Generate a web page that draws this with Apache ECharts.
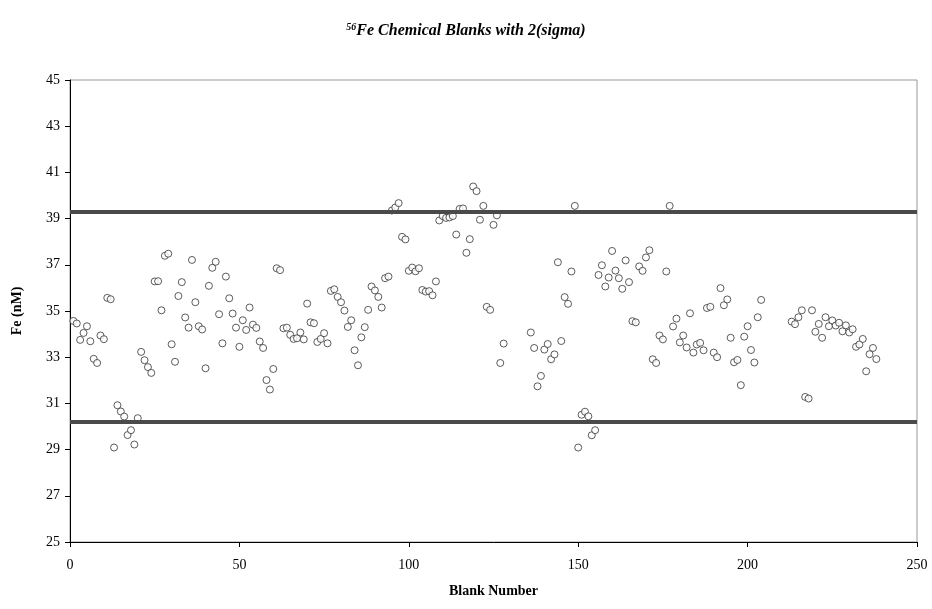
<!DOCTYPE html>
<html>
<head>
<meta charset="utf-8">
<script src="https://cdn.jsdelivr.net/npm/echarts@6/dist/echarts.min.js"></script>
<style>
html,body{margin:0;padding:0;background:#fff;}
#chart{width:932px;height:609px;}
</style>
</head>
<body>
<div id="chart"></div>
<script>
const blankNumbers = [
  1,2,3,4,5,6,7,8,9,10,11,12,13,14,15,16,17,18,19,20,
  21,22,23,24,25,26,27,28,29,30,31,32,33,34,35,36,37,38,39,40,
  41,42,43,44,45,46,47,48,49,50,51,52,53,54,55,56,57,58,59,60,
  61,62,63,64,65,66,67,68,69,70,71,72,73,74,75,76,77,78,79,80,
  81,82,83,84,85,86,87,88,89,90,91,92,93,94,95,96,97,98,99,100,
  101,102,103,104,105,106,107,108,109,110,111,112,113,114,115,116,117,118,119,120,
  121,122,123,124,125,126,127,128,
  136,137,138,139,140,141,142,143,144,145,146,147,148,149,150,
  151,152,153,154,155,156,157,158,159,160,161,162,163,164,165,166,167,168,169,170,
  171,172,173,174,175,176,177,178,179,180,181,182,183,184,185,186,187,188,189,190,
  191,192,193,194,195,196,197,198,199,200,201,202,203,204,
  213,214,215,216,217,218,219,220,221,222,223,224,225,226,227,228,229,230,
  231,232,233,234,235,236,237,238
];
const feValues = [
  34.57,34.46,33.75,34.05,34.34,33.69,32.93,32.75,33.94,33.78,35.57,35.51,29.09,30.92,30.65,30.43,29.63,29.84,29.22,30.36,
  33.23,32.87,32.57,32.32,36.28,36.29,35.03,37.39,37.48,33.56,32.80,35.65,36.25,34.72,34.28,37.21,35.38,34.34,34.20,32.52,
  36.09,36.87,37.13,34.86,33.60,36.49,35.55,34.89,34.28,33.45,34.60,34.18,35.15,34.41,34.27,33.68,33.40,32.01,31.60,32.49,
  36.85,36.77,34.25,34.28,33.97,33.79,33.82,34.07,33.77,35.32,34.51,34.47,33.66,33.79,34.04,33.60,35.87,35.94,35.61,35.38,
  35.02,34.31,34.60,33.30,32.65,33.86,34.30,35.05,36.06,35.89,35.61,35.15,36.42,36.49,39.35,39.48,39.67,38.21,38.10,36.74,
  36.88,36.72,36.85,35.91,35.84,35.86,35.68,36.28,38.92,39.11,39.03,39.05,39.11,38.31,39.42,39.44,37.52,38.11,40.39,40.19,
  38.95,39.55,35.18,35.05,38.73,39.14,32.75,33.59,
  34.07,33.40,31.74,32.19,33.33,33.57,32.91,33.12,37.11,33.70,35.60,35.31,36.71,39.55,29.09,
  30.51,30.64,30.44,29.62,29.84,36.56,36.98,36.06,36.45,37.60,36.75,36.42,35.96,37.19,36.25,34.56,34.51,36.93,36.74,37.32,
  37.63,32.91,32.75,33.94,33.77,36.71,39.55,34.33,34.67,33.64,33.94,33.42,34.90,33.20,33.55,33.62,33.30,35.13,35.18,33.20,
  33.00,35.99,35.25,35.50,33.84,32.78,32.88,31.79,33.89,34.34,33.31,32.77,34.73,35.48,
  34.54,34.43,34.73,35.03,31.28,31.21,35.03,34.10,34.44,33.84,34.73,34.34,34.59,34.37,34.49,34.12,34.38,34.07,
  34.21,33.45,33.55,33.79,32.39,33.13,33.40,32.92
];
const upperLimit = 39.3;
const lowerLimit = 30.2;
const xTicks = [0, 50, 100, 150, 200, 250];
const yTicks = [25, 27, 29, 31, 33, 35, 37, 39, 41, 43, 45];

const points = blankNumbers.map((b, i) => [b, feValues[i]]);
const serif = '"Liberation Serif","Times New Roman",serif';

const chart = echarts.init(document.getElementById('chart'), null, {renderer: 'canvas'});
chart.setOption({
  backgroundColor: '#ffffff',
  animation: false,
  title: {
    text: '{sup|56}{t|Fe Chemical Blanks with 2(sigma)}',
    left: 'center',
    top: 17,
    textStyle: {
      rich: {
        sup: {fontFamily: serif, fontSize: 10, fontStyle: 'italic', fontWeight: 'bold', color: '#000', verticalAlign: 'top', padding: [0, 0, 8, 0]},
        t: {fontFamily: serif, fontSize: 16, fontStyle: 'italic', fontWeight: 'bold', color: '#000'}
      }
    }
  },
  grid: {
    left: 70, right: 15, top: 80, bottom: 67,
    show: true, borderColor: '#999', borderWidth: 1, backgroundColor: '#fff'
  },
  xAxis: {
    type: 'value',
    min: xTicks[0], max: xTicks[xTicks.length - 1], interval: 50,
    name: 'Blank Number',
    nameLocation: 'middle',
    nameGap: 42,
    nameTextStyle: {fontFamily: serif, fontSize: 14, fontWeight: 'bold', color: '#000'},
    axisLine: {show: true, lineStyle: {color: '#000', width: 1}},
    axisTick: {show: true, inside: false, length: 5, lineStyle: {color: '#000'}},
    axisLabel: {fontFamily: serif, fontSize: 14, color: '#000', margin: 16},
    splitLine: {show: false}
  },
  yAxis: {
    type: 'value',
    min: yTicks[0], max: yTicks[yTicks.length - 1], interval: 2,
    name: 'Fe (nM)',
    nameLocation: 'middle',
    nameGap: 46,
    nameRotate: 90,
    nameTextStyle: {fontFamily: serif, fontSize: 14, fontWeight: 'bold', color: '#000'},
    axisLine: {show: true, lineStyle: {color: '#000', width: 1}},
    axisTick: {show: true, inside: false, length: 5, lineStyle: {color: '#000'}},
    axisLabel: {fontFamily: serif, fontSize: 14, color: '#000', margin: 10},
    splitLine: {show: false}
  },
  series: [{
    type: 'scatter',
    data: points,
    symbol: 'circle',
    symbolSize: 7,
    itemStyle: {color: '#ffffff', borderColor: '#333', borderWidth: 1},
    markLine: {
      silent: true,
      symbol: ['none', 'none'],
      label: {show: false},
      lineStyle: {color: '#4a4a4a', width: 4, type: 'solid'},
      data: [{yAxis: upperLimit}, {yAxis: lowerLimit}]
    }
  }]
});
</script>
</body>
</html>
